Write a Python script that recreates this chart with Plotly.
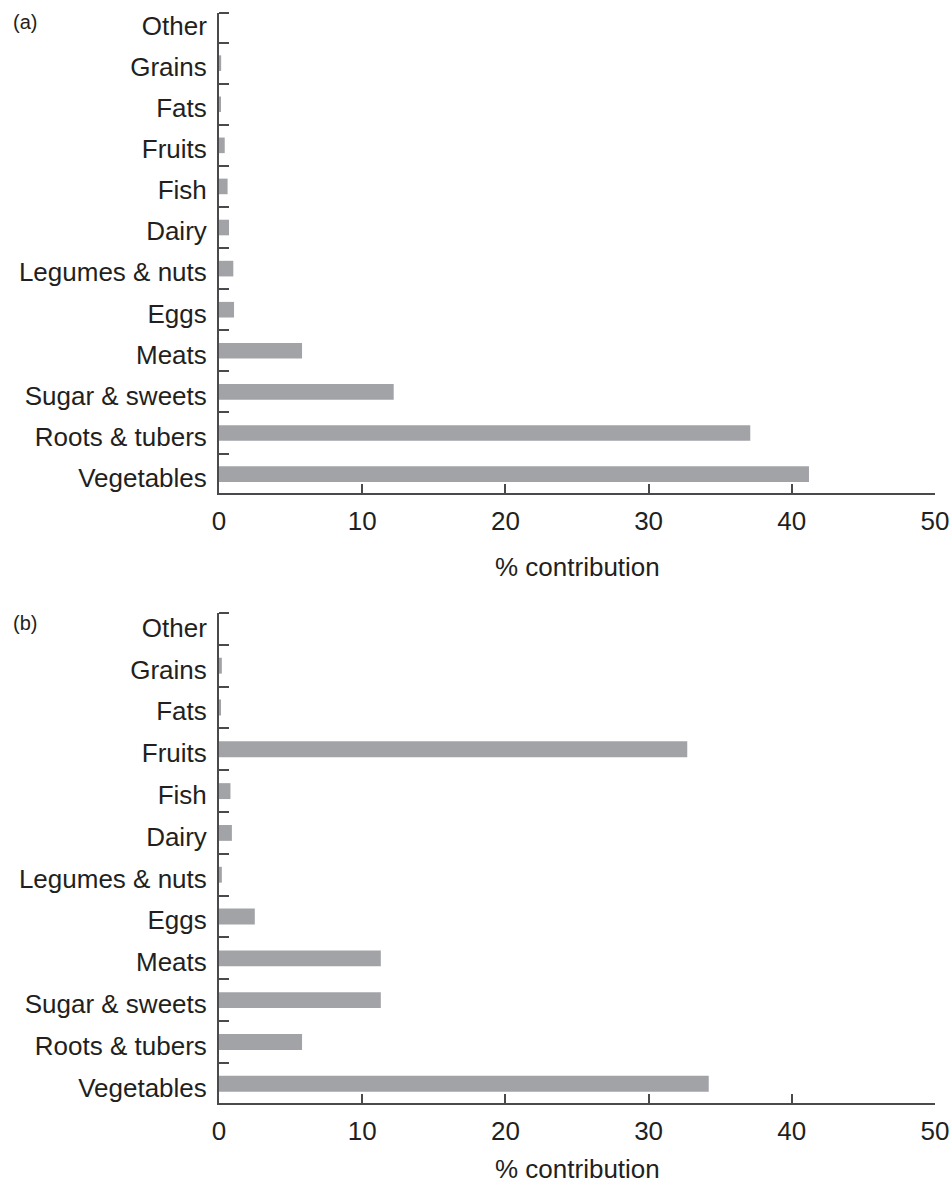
import plotly.graph_objects as go
from plotly.subplots import make_subplots

# Food groups, bottom to top
categories = ["Vegetables", "Roots & tubers", "Sugar & sweets", "Meats", "Eggs",
              "Legumes & nuts", "Dairy", "Fish", "Fruits", "Fats", "Grains", "Other"]

# % contribution by food group
panel_a = [41.2, 37.1, 12.2, 5.8, 1.05, 1.0, 0.7, 0.6, 0.4, 0.1, 0.15, 0.0]
panel_b = [34.2, 5.8, 11.3, 11.3, 2.5, 0.2, 0.9, 0.8, 32.7, 0.1, 0.2, 0.0]

x_ticks = [0, 10, 20, 30, 40, 50]
x_title = "% contribution"
panel_labels = ["(a)", "(b)"]

W, H = 950, 1185
BAR = "#a2a3a7"
INK = "#231f20"
AXIS = "#4a4a4c"
FONT = "Liberation Sans, Arial, sans-serif"

# pixel frame of each panel: (top, bottom) of the plotting area
frames = [(13, 493), (613, 1103)]
y_ranges = [[-0.46, 11.22], [-0.46, 11.26]]
title_y = [567, 1169]
X0, X1 = 219, 935

fig = make_subplots(rows=2, cols=1)

pos = list(range(len(categories)))
for i, vals in enumerate([panel_a, panel_b], start=1):
    fig.add_trace(go.Bar(x=vals, y=pos, orientation="h",
                         marker=dict(color=BAR, line=dict(width=0)),
                         width=0.38, showlegend=False,
                         hovertext=categories), row=i, col=1)

for i in (1, 2):
    top, bot = frames[i - 1]
    yr = y_ranges[i - 1]
    xa = "xaxis" if i == 1 else "xaxis2"
    ya = "yaxis" if i == 1 else "yaxis2"
    fig.layout[xa].update(
        domain=[X0 / W, X1 / W], range=[0, 50], tickvals=x_ticks, ticks="inside",
        ticklen=9, tickwidth=2, tickcolor=AXIS, showline=True, linecolor=AXIS,
        linewidth=2, showgrid=False, zeroline=False, automargin=False,
        tickfont=dict(size=26, color=INK, family=FONT), ticklabelstandoff=4)
    # category labels sit on the bars; short ticks mark the category boundaries
    boundaries = [k + 0.5 for k in range(len(categories) - 1)] + [yr[1]]
    fig.layout[ya].update(
        domain=[1 - bot / H, 1 - top / H], range=yr,
        tickvals=[p - 0.09 for p in pos], ticktext=categories, ticks="",
        minor=dict(tickmode="array", tickvals=boundaries, ticks="inside",
                   ticklen=10, tickwidth=2, tickcolor=AXIS, showgrid=False),
        showline=True, linecolor=AXIS, linewidth=2, showgrid=False, zeroline=False,
        automargin=False, tickfont=dict(size=26, color=INK, family=FONT),
        ticklabelstandoff=5)

# Axis titles and panel letters
for ty in title_y:
    fig.add_annotation(x=(X0 + X1) / 2 / W, y=1 - ty / H, xref="paper",
                       yref="paper", text=x_title, showarrow=False, xanchor="center",
                       yanchor="middle", font=dict(size=26, color=INK, family=FONT))
for lab, y_px in zip(panel_labels, (22, 623)):
    fig.add_annotation(x=11 / W, y=1 - y_px / H, xref="paper", yref="paper",
                       text=lab, showarrow=False, xanchor="left", yanchor="middle",
                       font=dict(size=20, color=INK, family=FONT))

fig.update_layout(width=W, height=H, margin=dict(l=0, r=0, t=0, b=0),
                  plot_bgcolor="white", paper_bgcolor="white",
                  font=dict(family=FONT, color=INK))

fig.write_html("out.html")
